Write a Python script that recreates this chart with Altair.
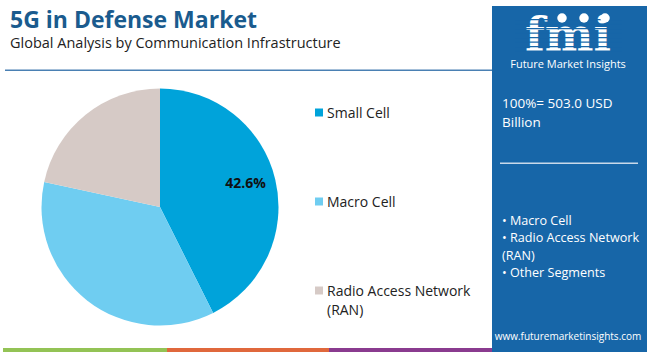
import altair as alt
import pandas as pd

# ---- data ----
categories = ["Small Cell", "Macro Cell", "Radio Access Network (RAN)"]
shares = [42.6, 35.8, 21.6]
slice_labels = ["42.6%", "", ""]
slice_colors = ["#00a3da", "#6fcdf1", "#d6cac6"]

title_text = "5G in Defense Market"
subtitle_text = "Global Analysis by Communication Infrastructure"
total_lines = ["100%= 503.0 USD", "Billion"]
segment_lines = ["• Macro Cell", "• Radio Access Network", "(RAN)", "• Other Segments"]
website = "www.futuremarketinsights.com"
brand = "Future Market Insights"
strip_colors = ["#93c355", "#e0683c", "#8a3b8f"]

FONT = "Open Sans"
PANEL = "#1766a8"

df = pd.DataFrame({"category": categories, "share": shares,
                   "label": slice_labels, "order": list(range(len(categories)))})

color_scale = alt.Scale(domain=categories, range=slice_colors)
one = alt.Data(values=[{}])


def txt(s, x, y, size, color, weight="normal", align="left", font=FONT):
    return alt.Chart(one).mark_text(
        text=s, align=align, baseline="alphabetic", fontSize=size,
        font=font, fontWeight=weight, color=color
    ).encode(x=alt.value(x), y=alt.value(y))


def rect(x1, x2, y1, y2, color):
    return alt.Chart(one).mark_rect(color=color).encode(
        x=alt.value(x1), x2=alt.value(x2), y=alt.value(y1), y2=alt.value(y2))


CX, CY, R = 160, 207, 118.5

pie = alt.Chart(df).mark_arc(outerRadius=R, stroke=None).encode(
    theta=alt.Theta("share:Q", stack=True),
    color=alt.Color("category:N", scale=color_scale, legend=None),
    order=alt.Order("order:Q"),
    x=alt.value(CX), y=alt.value(CY),
)
pie_text = alt.Chart(df).mark_text(
    radius=88, fontSize=14, fontWeight="bold", font=FONT, color="#111111", dy=-3
).encode(
    theta=alt.Theta("share:Q", stack=True),
    text="label:N",
    order=alt.Order("order:Q"),
    x=alt.value(CX), y=alt.value(CY),
)

ypos = alt.Y("category:N", axis=None,
             scale=alt.Scale(type="point", domain=categories, range=[112.5, 290.5], padding=0))
leg_sq = alt.Chart(df).mark_square(size=64, opacity=1).encode(
    x=alt.value(319), y=ypos,
    color=alt.Color("category:N", scale=color_scale, legend=None),
)
leg_txt = alt.Chart(df).transform_calculate(
    lbl="replace(datum.category, ' (', '\\n(')"
).mark_text(
    align="left", baseline="alphabetic", fontSize=14, font=FONT, color="#222222",
    dy=5, lineBreak="\n", lineHeight=19
).encode(x=alt.value(327), y=ypos, text="lbl:N")

layers = [
    rect(0, 650, 0, 352, "white"),
    txt(title_text, 10, 28, 23, "#1a5b8e", weight="bold"),
    txt(subtitle_text, 10, 48, 14.5, "#222222"),
    rect(5, 492, 69.5, 71, "#4a80b3"),
    rect(3, 167, 348, 352, strip_colors[0]),
    rect(167, 329, 348, 352, strip_colors[1]),
    rect(329, 493, 348, 352, strip_colors[2]),
    rect(492, 647, 6, 352, PANEL),
    pie, pie_text, leg_sq, leg_txt,
    # logo
    txt("fmi", 568, 51, 46, "white", weight="bold", align="center", font="DejaVu Serif"),
]
for k in range(8):
    yy = 19 + k * 4.5
    layers.append(rect(515, 622, yy, yy + 1.2, PANEL))
for xx in [562, 584, 605]:
    layers.append(alt.Chart(one).mark_point(filled=True, size=90, color="white", opacity=1)
                  .encode(x=alt.value(xx), y=alt.value(18)))
layers += [
    txt(brand, 568, 68, 11, "white", align="center"),
    txt(total_lines[0], 502, 108, 13.5, "white"),
    txt(total_lines[1], 502, 127, 13.5, "white"),
    rect(500, 638, 162.5, 164, "#c9d9ea"),
]
for i, s in enumerate(segment_lines):
    layers.append(txt(s, 502, 225 + i * 17.3, 12.6, "white"))
layers.append(txt(website, 568, 340, 10, "white", align="center"))

chart = alt.layer(*layers).properties(
    width=650, height=352, padding=0, autosize="none"
).configure_view(stroke=None)

chart.save("out.html", embed_options={"renderer": "svg", "actions": False})
